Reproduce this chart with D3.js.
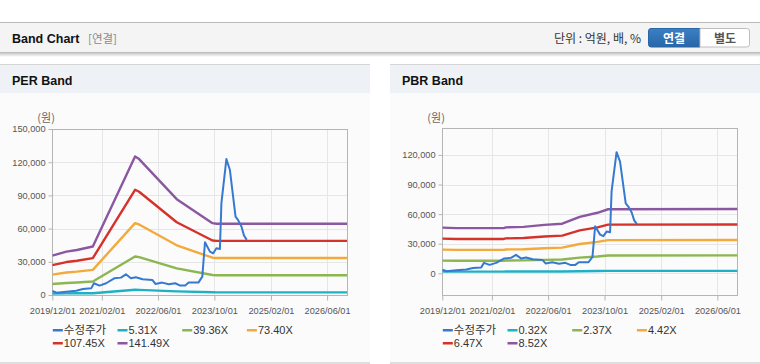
<!DOCTYPE html>
<html>
<head>
<meta charset="utf-8">
<script src="https://cdn.jsdelivr.net/npm/d3@7"></script>
<style>
  body { margin: 0; background: #fff; }
  svg text { font-family: "Liberation Sans", Arial, "Noto Sans CJK KR", sans-serif; }
  .kr { font-family: "Noto Sans CJK KR", "Liberation Sans", sans-serif; }
</style>
</head>
<body>
<script>
// x axis tick labels (same for both charts)
var tickDates = ['2019/12/01','2021/02/01','2022/06/01','2023/10/01','2025/02/01','2026/06/01'];

// adjusted share price (수정주가)
var priceDates = ['2019-12-01','2020-01-07','2020-04-01','2020-06-25','2020-08-22','2020-11-01','2020-11-25',
  '2021-01-12','2021-03-10','2021-05-19','2021-07-16','2021-08-28','2021-10-10','2021-11-22','2022-01-19',
  '2022-04-13','2022-05-10','2022-07-07','2022-09-03','2022-10-28','2022-12-10','2023-01-22','2023-02-21',
  '2023-05-16','2023-06-19','2023-07-12','2023-08-24','2023-09-21','2023-10-19','2023-11-18','2023-12-01',
  '2024-01-13','2024-02-12','2024-04-01','2024-04-22','2024-05-22','2024-06-13','2024-07-07'];
var priceValues = [3600,2100,3000,3900,5400,6000,10600,8500,10600,15100,15700,18700,15100,16000,14200,
  13600,10000,11200,9700,10600,8500,8500,11200,11200,16600,47700,39200,37700,42300,41600,83000,
  122800,113200,70900,67900,61900,53700,49800];

// PER band
var perNames = ['5.31X','39.36X','73.40X','107.45X','141.49X'];
var perDates = ['2019-12-01','2020-04-01','2020-07-01','2020-11-15','2021-11-15','2021-12-20',
  '2022-11-10','2023-09-15','2023-10-20','2026-11-30'];
var per531 = [1336,1471,1527,1644,4699,4609,3250,2436,2416,2416];
var per3936 = [9903,10903,11320,12186,34830,34164,24088,18054,17909,17909];
var per7340 = [18467,20332,21110,22725,64952,63711,44921,33669,33397,33397];
var per10745 = [27034,29764,30903,33267,95082,93267,65759,49287,48890,48890];
var per14149 = [35599,39193,40692,43806,125204,122813,86592,64901,64378,64378];
var perTicks = [0,30000,60000,90000,120000,150000];

// PBR band
var pbrNames = ['0.32X','2.37X','4.42X','6.47X','8.52X'];
var pbrDates = ['2019-12-01','2020-04-01','2021-05-15','2021-06-01','2021-11-01','2022-05-01',
  '2022-10-01','2023-03-01','2023-08-01','2023-11-01','2026-11-30'];
var pbr032 = [1739,1722,1722,1750,1766,1843,1888,2150,2304,2438,2449];
var pbr237 = [12879,12751,12751,12964,13082,13651,13983,15926,17064,18059,18138];
var pbr442 = [24018,23780,23780,24177,24398,25459,26078,29702,31824,33680,33826];
var pbr647 = [35158,34809,34809,35391,35714,37267,38173,43478,46584,49301,49515];
var pbr852 = [46298,45838,45838,46604,47030,49075,50268,57254,61344,64922,65204];
var pbrTicks = [0,30000,60000,90000,120000];

var colors = ['#3579d1','#1eb1c6','#8bb650','#f3aa3c','#d5322b','#8b57a1'];

var parse = d3.timeParse('%Y-%m-%d');
var parseTick = d3.timeParse('%Y/%m/%d');
var fmt = d3.format(',');

var svg = d3.select('body').append('svg').attr('width', 760).attr('height', 364);

// top header bar
var defs = svg.append('defs');
var sh = defs.append('linearGradient').attr('id', 'shadow').attr('x1', 0).attr('x2', 0).attr('y1', 0).attr('y2', 1);
sh.append('stop').attr('offset', 0).attr('stop-color', '#c8c8c8');
sh.append('stop').attr('offset', 1).attr('stop-color', '#fff');
var bg = defs.append('linearGradient').attr('id', 'btn').attr('x1', 0).attr('x2', 0).attr('y1', 0).attr('y2', 1);
bg.append('stop').attr('offset', 0).attr('stop-color', '#3b80c4');
bg.append('stop').attr('offset', 1).attr('stop-color', '#2866a8');

svg.append('rect').attr('x', 0).attr('y', 22).attr('width', 760).attr('height', 31).attr('fill', '#f4f4f4');
svg.append('rect').attr('x', 0).attr('y', 22).attr('width', 760).attr('height', 1).attr('fill', '#b9b9b9');
svg.append('rect').attr('x', 0).attr('y', 52).attr('width', 760).attr('height', 1).attr('fill', '#bdbdbd');
svg.append('rect').attr('x', 0).attr('y', 53).attr('width', 760).attr('height', 4).attr('fill', 'url(#shadow)');
svg.append('text').attr('x', 12).attr('y', 43).attr('font-size', 12.5).attr('font-weight', 'bold')
  .attr('fill', '#111').text('Band Chart');
svg.append('text').attr('class', 'kr').attr('x', 88).attr('y', 43).attr('font-size', 11.5)
  .attr('fill', '#8a8a8a').text('[연결]');
svg.append('text').attr('class', 'kr').attr('x', 641).attr('y', 43).attr('font-size', 12)
  .attr('text-anchor', 'end').attr('fill', '#333').text('단위 : 억원, 배, %');
svg.append('path').attr('d', 'M700,28.5 H651 Q648.5,28.5 648.5,31 V44.5 Q648.5,47 651,47 H700 Z')
  .attr('fill', 'url(#btn)').attr('stroke', '#2a66a5');
svg.append('path').attr('d', 'M700,28.5 H746.5 Q749.5,28.5 749.5,31 V44.5 Q749.5,47 746.5,47 H700 Z')
  .attr('fill', '#fff').attr('stroke', '#bdbdbd');
svg.append('text').attr('class', 'kr').attr('x', 674).attr('y', 42.5).attr('font-size', 12).attr('font-weight', 'bold')
  .attr('text-anchor', 'middle').attr('fill', '#fff').text('연결');
svg.append('text').attr('class', 'kr').attr('x', 725).attr('y', 42.5).attr('font-size', 12).attr('font-weight', 'bold')
  .attr('text-anchor', 'middle').attr('fill', '#555').text('별도');

var drawPanel = function(opt) {
  var g = svg.append('g');
  g.append('rect').attr('x', opt.px).attr('y', 64).attr('width', 370).attr('height', 299).attr('fill', '#fbfbfb');
  g.append('rect').attr('x', opt.px).attr('y', 64).attr('width', 370).attr('height', 29).attr('fill', '#eef2f7');
  g.append('rect').attr('x', opt.px).attr('y', 64).attr('width', 370).attr('height', 1).attr('fill', '#d6d6d6');
  g.append('rect').attr('x', opt.px).attr('y', 362).attr('width', 370).attr('height', 2).attr('fill', '#dedede');
  g.append('text').attr('x', opt.px + 12).attr('y', 85).attr('font-size', 12.5).attr('font-weight', 'bold')
    .attr('fill', '#111').text(opt.title);

  var x = d3.scaleTime()
    .domain([parse('2019-12-01'), parse('2026-11-20')])
    .range([opt.left, opt.right]);
  var y = d3.scaleLinear().domain(opt.yDomain).range([295, opt.top]);

  var ticks = tickDates.map(function(t) { return parseTick(t); });

  // grid
  g.append('g').selectAll('line.h').data(opt.yTicks).enter().append('line')
    .attr('x1', opt.left).attr('x2', opt.right)
    .attr('y1', function(d) { return Math.round(y(d)) + 0.5; })
    .attr('y2', function(d) { return Math.round(y(d)) + 0.5; })
    .attr('stroke', '#e6e6e6');
  g.append('g').selectAll('line.v').data(ticks).enter().append('line')
    .attr('x1', function(d) { return Math.round(x(d)) + 0.5; })
    .attr('x2', function(d) { return Math.round(x(d)) + 0.5; })
    .attr('y1', opt.top).attr('y2', 295)
    .attr('stroke', '#e6e6e6');

  // axes
  var yAxis = d3.axisLeft(y).tickValues(opt.yTicks).tickSize(4).tickFormat(fmt);
  var ya = g.append('g').attr('transform', 'translate(' + (Math.round(opt.left) + 0.5) + ',0)').call(yAxis);
  ya.select('.domain').remove();
  ya.selectAll('line').attr('stroke', '#b5b5b5');
  ya.selectAll('text').attr('font-size', 9.2).attr('fill', '#555').attr('font-family', 'Liberation Sans');

  var xAxis = d3.axisBottom(x).tickValues(ticks).tickSize(5).tickFormat(d3.timeFormat('%Y/%m/%d'));
  var xa = g.append('g').attr('transform', 'translate(0,295.5)').call(xAxis);
  xa.select('.domain').remove();
  xa.selectAll('line').attr('stroke', '#b5b5b5');
  xa.selectAll('text').attr('font-size', 9.2).attr('fill', '#555').attr('dy', '1.1em').attr('font-family', 'Liberation Sans');

  g.append('rect')
    .attr('x', Math.round(opt.left) + 0.5).attr('y', Math.round(opt.top) + 0.5)
    .attr('width', Math.round(opt.right) - Math.round(opt.left))
    .attr('height', 295 - Math.round(opt.top))
    .attr('fill', 'none').attr('stroke', '#b5b5b5');

  g.append('text').attr('class', 'kr').attr('x', opt.left - 15).attr('y', 122).attr('font-size', 11)
    .attr('fill', '#666').text('(원)');

  // lines
  var line = d3.line()
    .x(function(d) { return x(d.date); })
    .y(function(d) { return y(d.value); });

  var clipId = 'clip' + opt.px;
  defs.append('clipPath').attr('id', clipId).append('rect')
    .attr('x', opt.left).attr('y', opt.top).attr('width', opt.right - opt.left).attr('height', 295 - opt.top);

  var plot = g.append('g').attr('clip-path', 'url(#' + clipId + ')');
  opt.bands.forEach(function(vals, i) {
    var pts = opt.bandDates.map(function(d, j) { return { date: parse(d), value: vals[j] }; });
    plot.append('path').datum(pts).attr('d', line)
      .attr('fill', 'none').attr('stroke', colors[i + 1]).attr('stroke-width', 2.4)
      .attr('stroke-linejoin', 'round');
  });
  var pricePts = priceDates.map(function(d, j) { return { date: parse(d), value: priceValues[j] }; });
  plot.append('path').datum(pricePts).attr('d', line)
    .attr('fill', 'none').attr('stroke', colors[0]).attr('stroke-width', 2)
    .attr('stroke-linejoin', 'round');

  // legend
  var names = ['수정주가'].concat(opt.names);
  var lg = g.append('g');
  names.forEach(function(n, i) {
    var lx = opt.left + 0.5 + (i % 4) * 64.7;
    var ly = 330 + Math.floor(i / 4) * 13;
    lg.append('rect').attr('x', lx).attr('y', ly - 1).attr('width', 10).attr('height', 2.5).attr('fill', colors[i]);
    lg.append('text').attr('class', i === 0 ? 'kr' : null)
      .attr('x', lx + 11).attr('y', ly + 4).attr('font-size', i === 0 ? 11.5 : 11).attr('fill', '#333').text(n);
  });
};

drawPanel({
  px: 0, title: 'PER Band', left: 52.3, right: 347, top: 129,
  yDomain: [0, 150000], yTicks: perTicks,
  names: perNames, bandDates: perDates,
  bands: [per531, per3936, per7340, per10745, per14149]
});
drawPanel({
  px: 390, title: 'PBR Band', left: 442.3, right: 737.3, top: 128.3,
  yDomain: [-22000, 147000], yTicks: pbrTicks,
  names: pbrNames, bandDates: pbrDates,
  bands: [pbr032, pbr237, pbr442, pbr647, pbr852]
});
</script>
</body>
</html>
